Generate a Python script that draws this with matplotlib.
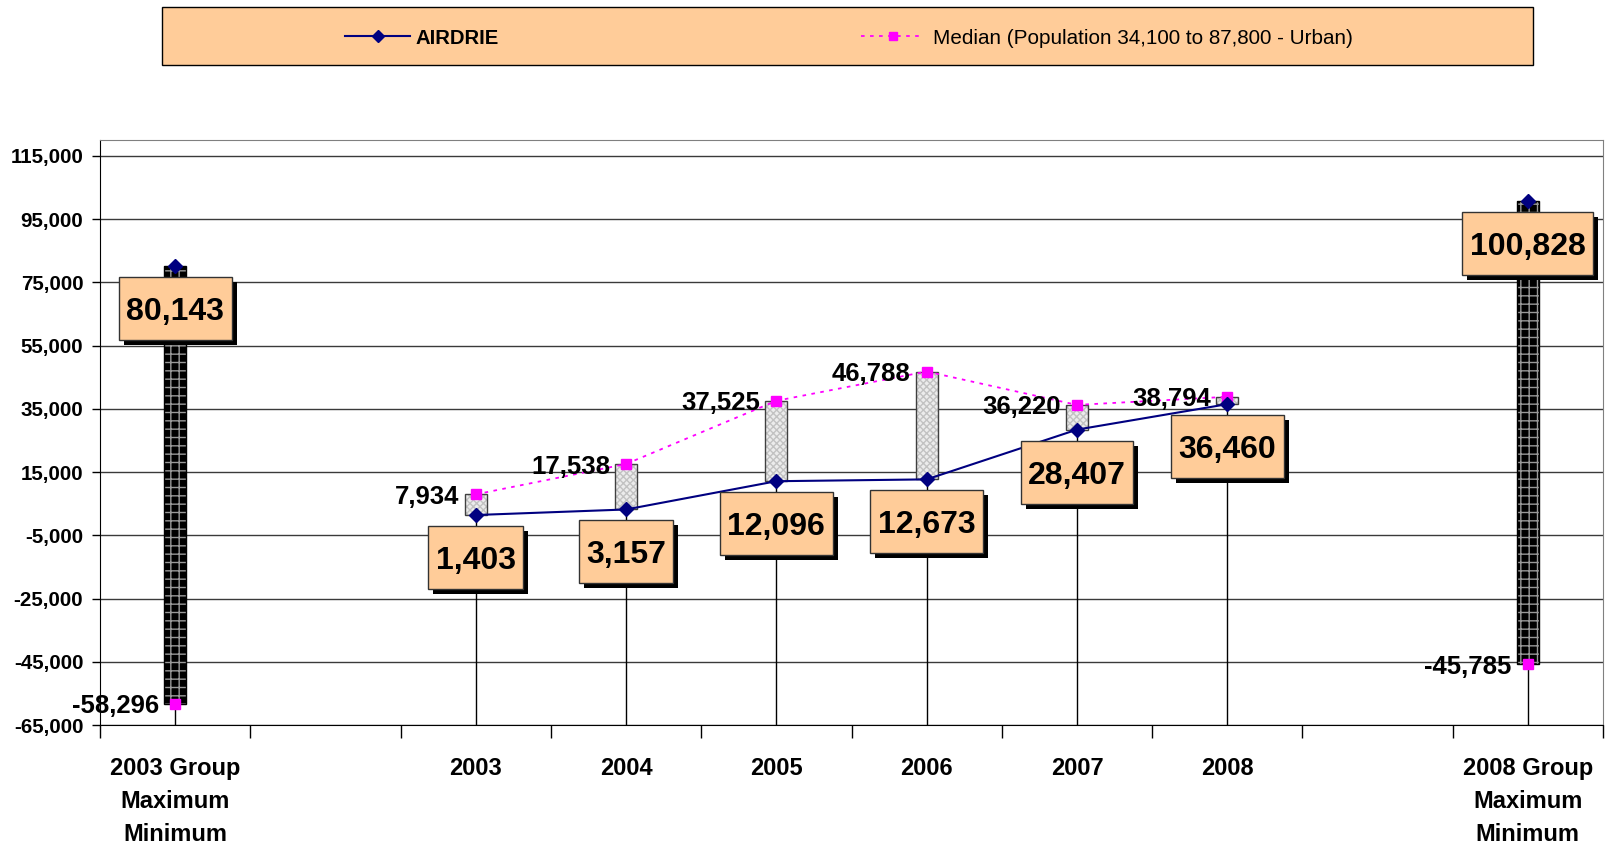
import numpy as np
import matplotlib.pyplot as plt
import matplotlib.patheffects as pe
from matplotlib.patches import Rectangle
from matplotlib.lines import Line2D
from matplotlib.transforms import IdentityTransform

plt.rcParams['font.family'] = ['Liberation Sans', 'DejaVu Sans']

W, H = 1609, 843

# categories (blank slots separate the group columns from the years)
slots = ['2003 Group\nMaximum\nMinimum', '', '2003', '2004', '2005', '2006',
         '2007', '2008', '', '2008 Group\nMaximum\nMinimum']
airdrie = [80143, np.nan, 1403, 3157, 12096, 12673, 28407, 36460, np.nan, 100828]
median = [-58296, np.nan, 7934, 17538, 37525, 46788, 36220, 38794, np.nan, -45785]
airdrie_name = 'AIRDRIE'
median_name = 'Median (Population 34,100 to 87,800 - Urban)'

ymin, ymax = -65000, 120000
yticks = np.arange(-65000, 115001, 20000)

fig = plt.figure(figsize=(W / 100, H / 100), dpi=100)
ax = fig.add_axes([100 / W, 1 - 725 / H, (1603 - 100) / W, (725 - 140) / H])

x = np.arange(len(slots))
a = np.array(airdrie, float)
m = np.array(median, float)

ax.set_xlim(-0.5, len(slots) - 0.5)
ax.set_ylim(ymin, ymax)
ax.set_yticks(yticks)
ax.yaxis.set_major_formatter(lambda v, p: f'{v:,.0f}')
ax.tick_params(axis='y', length=6, pad=6, labelsize=14.8, width=1)
for lab in ax.get_yticklabels():
    lab.set_fontweight('bold')

# category boundaries get tick marks, labels sit in the middle
ax.set_xticks(np.arange(-0.5, len(slots), 1), [''] * (len(slots) + 1))
ax.set_xticks(x, slots, minor=True)
ax.tick_params(axis='x', which='major', length=9, width=1)
ax.tick_params(axis='x', which='minor', length=0, pad=23, labelsize=17)
for lab in ax.get_xticklabels(minor=True):
    lab.set_fontweight('bold')
    lab.set_linespacing(1.57)

ax.yaxis.grid(True, color='#3a3a3a', lw=1)
ax.set_axisbelow(True)
for s in ['top', 'right']:
    ax.spines[s].set_color('#808080')
for s in ['left', 'bottom']:
    ax.spines[s].set_color('black')

ok = ~np.isnan(a)

# drop lines
ax.vlines(x[ok], ymin, np.maximum(a[ok], m[ok]), color='black', lw=1, zorder=1.5)

# up/down bars
bw = 0.146
for i in x[ok]:
    lo, hi = min(a[i], m[i]), max(a[i], m[i])
    if m[i] > a[i]:
        ax.bar(i, hi - lo, bottom=lo, width=bw, color='#ececec', hatch='xxxxx',
               edgecolor='#c2c2c2', lw=0, zorder=2)
        ax.bar(i, hi - lo, bottom=lo, width=bw, fill=False, edgecolor='#404040', lw=1, zorder=2.1)
    else:
        ax.bar(i, hi - lo, bottom=lo, width=bw, color='black', hatch='++',
               edgecolor='#9a9a9a', lw=0, zorder=2)
        ax.bar(i, hi - lo, bottom=lo, width=bw, fill=False, edgecolor='black', lw=1, zorder=2.1)

ax.plot(x, m, color='#FF00FF', lw=1.3, ls=(0, (2, 3)), marker='s', ms=7,
        mec='#FF00FF', mfc='#FF00FF', zorder=3)
ax.plot(x, a, color='#000080', lw=1.5, marker='D', ms=7, mec='#000080', mfc='#000080', zorder=3.5)

# median labels to the left of the points
for i in x[ok]:
    ax.annotate(f'{m[i]:,.0f}', (i, m[i]), xytext=(-16, 0), textcoords='offset pixels',
                ha='right', va='center_baseline', fontsize=18.5, fontweight='bold', zorder=6)

# AIRDRIE labels in shadowed boxes below the points
renderer = fig.canvas.get_renderer()
ident = IdentityTransform()
for i in x[ok]:
    px, py = ax.transData.transform((i, a[i]))
    top = py - 11
    bh = 63
    t = ax.text(px, top - bh / 2, f'{a[i]:,.0f}', transform=ident, ha='center',
                va='center_baseline', fontsize=23, fontweight='bold', zorder=8, clip_on=False)
    bb = t.get_window_extent(renderer)
    w = bb.width + 15
    box = Rectangle((px - w / 2, top - bh), w, bh, transform=ident, facecolor='#FFCC99',
                    edgecolor='#333333', lw=1, zorder=7, clip_on=False)
    box.set_path_effects([pe.SimplePatchShadow(offset=(3.6, -3.6), shadow_rgbFace='black', alpha=1),
                          pe.Normal()])
    ax.add_patch(box)

# legend box
fig.add_artist(Rectangle((162 / W, 1 - 65 / H), (1533 - 162) / W, 58 / H, transform=fig.transFigure,
                         facecolor='#FFCC99', edgecolor='black', lw=1))
ly = 1 - 36 / H
fig.add_artist(Line2D([345 / W, 410 / W], [ly, ly], transform=fig.transFigure, color='#000080', lw=1.5))
fig.add_artist(Line2D([378 / W], [ly], transform=fig.transFigure, marker='D', ms=6,
                      color='#000080'))
fig.text(416 / W, ly, airdrie_name, ha='left', va='center_baseline', fontsize=14.6, fontweight='bold')
fig.add_artist(Line2D([861 / W, 923 / W], [ly, ly], transform=fig.transFigure, color='#FF00FF',
                      lw=1.3, ls=(0, (2, 3))))
fig.add_artist(Line2D([893 / W], [ly], transform=fig.transFigure, marker='s', ms=6,
                      color='#FF00FF'))
fig.text(933 / W, ly, median_name, ha='left', va='center_baseline', fontsize=14.9)

fig.savefig('out.png', dpi=100)
